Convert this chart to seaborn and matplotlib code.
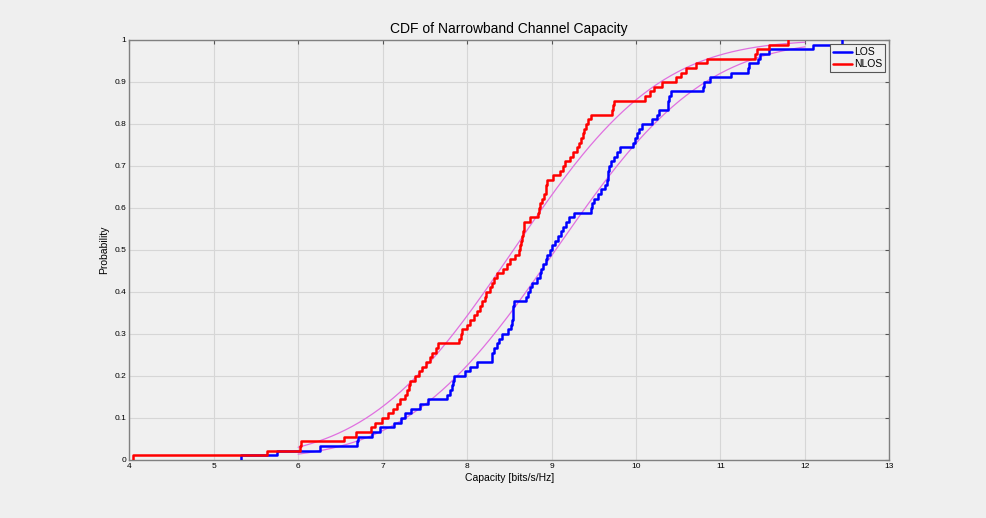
import math
import numpy as np
import pandas as pd
import seaborn as sns
import matplotlib
matplotlib.use("Agg")
import matplotlib.pyplot as plt

los = [5.32, 5.75, 6.26, 6.70, 6.71, 6.87, 6.97, 7.13, 7.22, 7.27,
       7.34, 7.44, 7.54, 7.76, 7.80, 7.82, 7.83, 7.85, 7.98, 8.04,
       8.12, 8.29, 8.30, 8.32, 8.35, 8.38, 8.41, 8.49, 8.52, 8.53,
       8.54, 8.545, 8.55, 8.555, 8.70, 8.72, 8.75, 8.77, 8.83, 8.86,
       8.88, 8.90, 8.93, 8.95, 8.98, 9.01, 9.04, 9.08, 9.11, 9.14,
       9.17, 9.21, 9.27, 9.47, 9.48, 9.50, 9.55, 9.59, 9.63, 9.66,
       9.665, 9.67, 9.68, 9.71, 9.74, 9.77, 9.81, 9.96, 9.99, 10.01,
       10.04, 10.07, 10.19, 10.25, 10.27, 10.38, 10.385, 10.39, 10.41, 10.79,
       10.81, 10.88, 11.12, 11.33, 11.34, 11.45, 11.47, 11.57, 12.10, 12.44]

nlos = [4.05, 5.63, 6.02, 6.03, 6.54, 6.68, 6.86, 6.91, 6.99, 7.07,
        7.12, 7.17, 7.21, 7.26, 7.29, 7.31, 7.33, 7.38, 7.43, 7.47,
        7.52, 7.56, 7.59, 7.63, 7.66, 7.91, 7.93, 7.94, 8.00, 8.04,
        8.08, 8.12, 8.15, 8.18, 8.21, 8.23, 8.27, 8.30, 8.32, 8.35,
        8.43, 8.47, 8.51, 8.57, 8.61, 8.63, 8.64, 8.65, 8.66, 8.67,
        8.68, 8.75, 8.84, 8.85, 8.86, 8.89, 8.91, 8.93, 8.94, 8.95,
        9.02, 9.10, 9.14, 9.16, 9.22, 9.26, 9.30, 9.33, 9.35, 9.37,
        9.39, 9.41, 9.43, 9.47, 9.72, 9.73, 9.74, 10.11, 10.17, 10.21,
        10.31, 10.47, 10.53, 10.59, 10.71, 10.84, 11.41, 11.43, 11.57, 11.80]

series = ["LOS", "NLOS"]
colors = ["#0000ff", "#ff0000"]
x_ticks = list(range(4, 14))
y_ticks = [0, 0.1, 0.2, 0.3, 0.4, 0.5, 0.6, 0.7, 0.8, 0.9, 1]

sns.set_style("whitegrid")
plt.rcParams["font.family"] = ["Liberation Sans", "DejaVu Sans"]
plt.rcParams["text.color"] = "black"
plt.rcParams["axes.labelcolor"] = "black"

fig = plt.figure(figsize=(9.86, 5.18), dpi=100, facecolor="#efefef")
ax = fig.add_axes([0.131, 0.112, 0.771, 0.811])
ax.set_facecolor("#f0f0f0")

# normal fits (magenta) from sample mean / std
erf = np.vectorize(math.erf)
xs = np.linspace(6, 12, 300)
for data in [los, nlos]:
    mu, sd = np.mean(data), np.std(data, ddof=1)
    ax.plot(xs, 0.5 * (1 + erf((xs - mu) / (sd * math.sqrt(2)))),
            color="#e070e0", lw=0.9, zorder=2)

for name, data, c in zip(series, [los, nlos], colors):
    sns.ecdfplot(x=data, ax=ax, color=c, lw=1.8, label=name, zorder=3)

ax.set_xlim(4, 13)
ax.set_ylim(0, 1)
ax.set_xticks(x_ticks)
ax.set_yticks(y_ticks)
ax.set_yticklabels(["0" if v == 0 else ("1" if v == 1 else f"{v:g}") for v in y_ticks])
ax.tick_params(direction="in", top=True, right=True, length=3, labelsize=6,
               color="#555555", labelcolor="black", pad=2)
ax.grid(True, color="#d6d6d6", lw=0.8)
for s in ax.spines.values():
    s.set_color("#808080")
    s.set_linewidth(1)

ax.set_title("CDF of Narrowband Channel Capacity", fontsize=10, pad=5, color="black")
ax.set_xlabel("Capacity [bits/s/Hz]", fontsize=7.5, labelpad=2)
ax.set_ylabel("Probability", fontsize=7.5, labelpad=4)

leg = ax.legend(loc="upper right", fontsize=7.5, fancybox=False, framealpha=1,
                borderaxespad=0.4, handlelength=1.8, borderpad=0.3,
                labelspacing=0.2, handletextpad=0.2)
leg.get_frame().set_edgecolor("#555555")
leg.get_frame().set_facecolor("#f0f0f0")
leg.get_frame().set_linewidth(0.8)

fig.savefig("out.png", dpi=100, facecolor=fig.get_facecolor())
